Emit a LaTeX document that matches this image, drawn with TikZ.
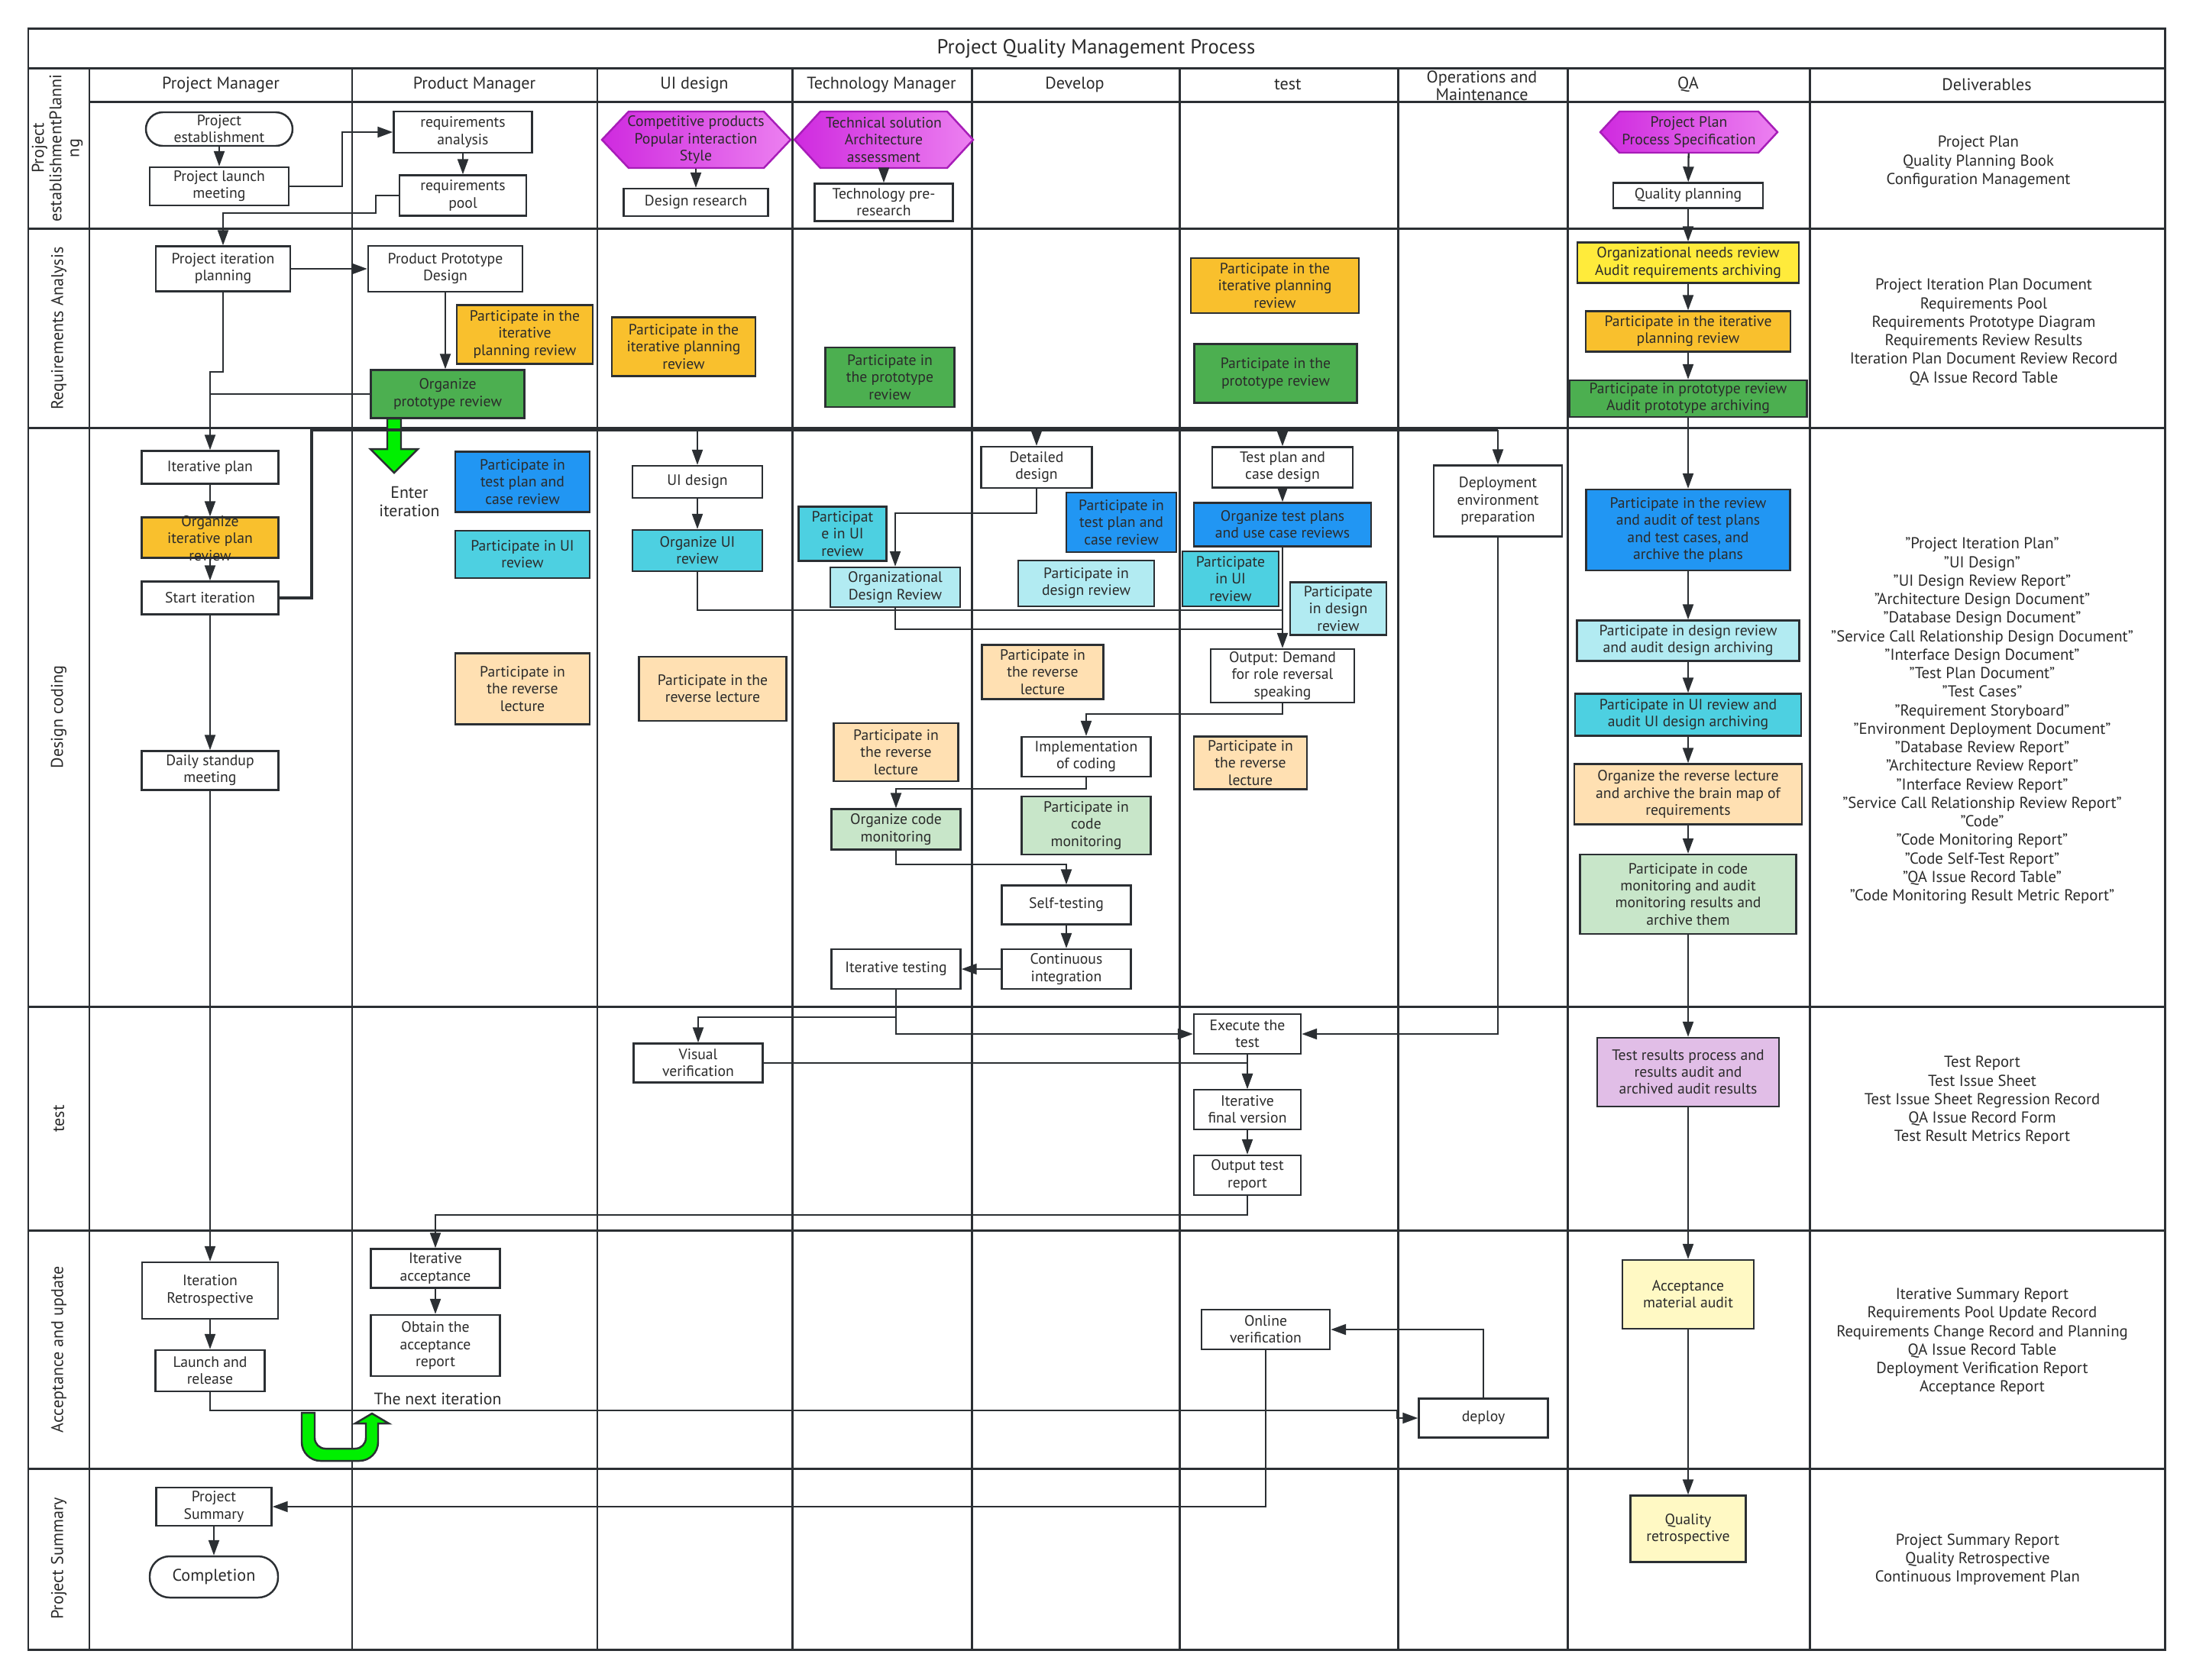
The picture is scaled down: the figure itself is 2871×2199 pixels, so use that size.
\documentclass[tikz,border=0pt]{standalone}
\usepackage{fontspec}
\setmainfont{PT Sans}
\usepackage{xcolor}
\usetikzlibrary{arrows.meta, positioning, calc}

\definecolor{lc}{HTML}{2B2F33}
\definecolor{tc}{HTML}{2B2B2B}
\definecolor{cOrange}{HTML}{F9C02D}
\definecolor{cGreen}{HTML}{4CAF50}
\definecolor{cYellow}{HTML}{FFEB3B}
\definecolor{cBlue}{HTML}{2196F3}
\definecolor{cCyan}{HTML}{4DD0E1}
\definecolor{cLCyan}{HTML}{B2EBF2}
\definecolor{cPeach}{HTML}{FFE0B2}
\definecolor{cLGreen}{HTML}{C8E6C9}
\definecolor{cPurple}{HTML}{E1BEE7}
\definecolor{cLYellow}{HTML}{FFF9C4}
\definecolor{arrgreen}{HTML}{00F000}
\definecolor{hexl}{HTML}{CF2ADF}
\definecolor{hexr}{HTML}{EC80F0}
\definecolor{hexb}{HTML}{A71DB8}

\newcommand\bxfont{\fontsize{5.6}{6.3}\selectfont}
\newcommand\ntfont{\fontsize{6.2}{7}\selectfont}
\newcommand\dlfont{\fontsize{5.9}{6.9}\selectfont}
\newcommand\hdfont{\fontsize{6.3}{6.6}\selectfont}
\newcommand\lnfont{\fontsize{6.3}{6.6}\selectfont}
\newcommand\ttlfont{\fontsize{7.6}{9}\selectfont}

\begin{document}
\begin{tikzpicture}[x=0.1mm, y=-0.1mm,
    every node/.style={text=tc},
    grid/.style={draw=lc, line width=0.85pt},
    box/.style={draw=lc, line width=0.7pt, fill=white, align=center, inner sep=1pt, font=\bxfont},
    sz/.style 2 args={minimum width=#1*0.1mm, minimum height=#2*0.1mm},
    term/.style={box, rounded corners=2.2mm},
    hexline/.style={draw=hexb, line width=0.7pt, left color=hexl, right color=hexr},
    hextext/.style={align=center, inner sep=0pt, font=\bxfont},
    hdr/.style={align=center, font=\hdfont},
    lanelbl/.style={rotate=90, align=center, font=\lnfont},
    dlv/.style={align=center, font=\dlfont},
    note/.style={align=center, font=\ntfont},
    conn/.style={draw=lc, line width=0.65pt},
    arr/.style={conn, -{Triangle[length=2mm, width=1.4mm]}},
    bus/.style={conn, line width=1pt},
    garrow/.style={draw=lc, line width=0.7pt, fill=arrgreen},
  ]
  \useasboundingbox (0,0) rectangle (2871,2199);

  % swimlane grid
  \draw[grid] (37,37) rectangle (2834,2160);
  \draw[grid] (37,89) -- (2834,89);
  \draw[grid] (117,133) -- (2834,133);
  \foreach \y in {299,560,1318,1611,1923}
    \draw[grid] (37,\y) -- (2834,\y);
  \foreach \x in {117,461,782,1037,1272,1544,1830,2052,2369}
    \draw[grid] (\x,89) -- (\x,2160);

  \node[font=\ttlfont] (title) at (1435,64) {Project Quality Management Process};

  % column headers
  \node[hdr] (hPM) at (289,111) {Project Manager};
  \node[hdr] (hPD) at (621,111) {Product Manager};
  \node[hdr] (hUI) at (909,111) {UI design};
  \node[hdr] (hTM) at (1154,111) {Technology Manager};
  \node[hdr] (hDV) at (1407,111) {Develop};
  \node[hdr] (hTS) at (1686,111) {test};
  \node[hdr] (hOP) at (1940,112) {Operations and\\Maintenance};
  \node[hdr] (hQA) at (2210,111) {QA};
  \node[hdr] (hDL) at (2601,111) {Deliverables};

  % lane labels
  \node[lanelbl] (lab1) at (75,194) {Project\\establishmentPlanni\\ng};
  \node[lanelbl] (lab2) at (77,430) {Requirements Analysis};
  \node[lanelbl] (lab3) at (77,939) {Design coding};
  \node[lanelbl] (lab4) at (77,1465) {test};
  \node[lanelbl] (lab5) at (77,1767) {Acceptance and update};
  \node[lanelbl] (lab6) at (77,2041) {Project Summary};

  % lane 1: project establishment
  \node[term, sz={192}{44}] (est) at (287,169) {Project\\establishment};
  \node[box, sz={182}{50}] (launch) at (287,244) {Project launch\\meeting};
  \node[box, sz={181}{54}] (reqa) at (606,173) {requirements\\analysis};
  \node[box, sz={166}{53}] (reqp) at (606,256) {requirements\\pool};
  \draw[hexline] (788,183) -- ++(35,-37) -- ++(177,0) -- ++(35,37) -- ++(-35,37) -- ++(-177,0) -- cycle;
  \node[hextext, sz={247}{74}] (uihex) at (911,183) {Competitive products\\Popular interaction\\Style};
  \node[box, sz={189}{36}] (dres) at (911,265) {Design research};
  \draw[hexline] (1040,183) -- ++(34,-37) -- ++(166,0) -- ++(34,37) -- ++(-34,37) -- ++(-166,0) -- cycle;
  \node[hextext, sz={234}{74}] (thex) at (1157,183) {Technical solution\\Architecture\\assessment};
  \node[box, sz={181}{49}] (tpre) at (1157,265) {Technology pre-\\research};
  \draw[hexline] (2095,173) -- ++(25,-27) -- ++(182,0) -- ++(25,27) -- ++(-25,27) -- ++(-182,0) -- cycle;
  \node[hextext, sz={232}{54}] (qhex) at (2211,173) {Project Plan\\Process Specification};
  \node[box, sz={196}{33}] (qpl) at (2210,256) {Quality planning};
  \node[dlv] (dl1) at (2590,212) {Project Plan\\Quality Planning Book\\Configuration Management};

  % lane 2: requirements analysis
  \node[box, sz={176}{59}] (pip) at (292,352) {Project iteration\\planning};
  \node[box, sz={202}{60}] (ppd) at (583,352) {Product Prototype\\Design};
  \node[box, fill=cOrange, sz={178}{77}] (pmrev) at (687,438) {Participate in the\\iterative\\planning review};
  \node[box, fill=cGreen, sz={201}{63}] (opr) at (586,516) {Organize\\prototype review};
  \node[box, fill=cOrange, sz={188}{77}] (uirev) at (895,454) {Participate in the\\iterative planning\\review};
  \node[box, fill=cGreen, sz={169}{78}] (tmproto) at (1165,494) {Participate in\\the prototype\\review};
  \node[box, fill=cOrange, sz={220}{72}] (tsrev) at (1669,374) {Participate in the\\iterative planning\\review};
  \node[box, fill=cGreen, sz={213}{77}] (tsproto) at (1670,489) {Participate in the\\prototype review};
  \node[box, fill=cYellow, sz={290}{53}] (qneed) at (2210,344) {Organizational needs review\\Audit requirements archiving};
  \node[box, fill=cOrange, sz={268}{53}] (qiter) at (2210,434) {Participate in the iterative\\planning review};
  \node[box, fill=cGreen, sz={311}{48}] (qproto) at (2210,522) {Participate in prototype review\\Audit prototype archiving};
  \node[dlv] (dl2) at (2597,435) {Project Iteration Plan Document\\Requirements Pool\\Requirements Prototype Diagram\\Requirements Review Results\\Iteration Plan Document Review Record\\QA Issue Record Table};

  % lane 3: design coding
  \node[box, sz={179}{43}] (itp) at (275,612) {Iterative plan};
  \node[box, fill=cOrange, sz={179}{53}] (oip) at (275,704) {};
  \node[note, font=\bxfont] (oiptxt) at (275,705) {Organize\\iterative plan\\review};
  \node[box, sz={179}{43}] (sti) at (275,783) {Start iteration};
  \node[box, sz={179}{51}] (dsm) at (275,1009) {Daily standup\\meeting};
  \node[box, fill=cBlue, sz={176}{79}] (pmtest) at (684,631) {Participate in\\test plan and\\case review};
  \node[box, fill=cCyan, sz={176}{62}] (pmui) at (684,726) {Participate in UI\\review};
  \node[box, fill=cPeach, sz={176}{93}] (pmlec) at (684,902) {Participate in\\the reverse\\lecture};
  \node[note] (enter) at (536,657) {Enter\\iteration};
  \node[box, sz={170}{42}] (uid) at (913,631) {UI design};
  \node[box, fill=cCyan, sz={170}{54}] (oui) at (913,721) {Organize UI\\review};
  \node[box, fill=cPeach, sz={193}{84}] (uilec) at (933,902) {Participate in the\\reverse lecture};
  \node[box, fill=cCyan, sz={115}{71}] (tmui) at (1103,699) {Participat\\e in UI\\review};
  \node[box, fill=cLCyan, sz={170}{52}] (odr) at (1172,769) {Organizational\\Design Review};
  \node[box, fill=cPeach, sz={163}{76}] (tmlec) at (1173,985) {Participate in\\the reverse\\lecture};
  \node[box, fill=cLGreen, sz={169}{53}] (ocm) at (1173,1086) {Organize code\\monitoring};
  \node[box, sz={169}{52}] (itt) at (1173,1269) {Iterative testing};
  \node[box, sz={145}{54}] (dd) at (1357,612) {Detailed\\design};
  \node[box, fill=cBlue, sz={144}{78}] (dvtest) at (1468,684) {Participate in\\test plan and\\case review};
  \node[box, fill=cLCyan, sz={178}{60}] (dvdes) at (1422,764) {Participate in\\design review};
  \node[box, fill=cPeach, sz={159}{71}] (dvlec) at (1365,880) {Participate in\\the reverse\\lecture};
  \node[box, sz={169}{52}] (impl) at (1422,991) {Implementation\\of coding};
  \node[box, fill=cLGreen, sz={169}{76}] (dvcode) at (1422,1081) {Participate in\\code\\monitoring};
  \node[box, sz={169}{51}] (self) at (1396,1185) {Self-testing};
  \node[box, sz={169}{52}] (ci) at (1396,1269) {Continuous\\integration};
  \node[box, sz={184}{53}] (tpc) at (1679,612) {Test plan and\\case design};
  \node[box, fill=cBlue, sz={232}{57}] (otp) at (1679,687) {Organize test plans\\and use case reviews};
  \node[box, fill=cCyan, sz={126}{72}] (tsui) at (1611,758) {Participate\\in UI\\review};
  \node[box, fill=cLCyan, sz={126}{69}] (tsdes) at (1752,797) {Participate\\in design\\review};
  \node[box, sz={188}{70}] (out) at (1679,885) {Output: Demand\\for role reversal\\speaking};
  \node[box, fill=cPeach, sz={148}{69}] (tslec) at (1637,999) {Participate in\\the reverse\\lecture};
  \node[box, sz={168}{93}] (depl) at (1961,656) {Deployment\\environment\\preparation};
  \node[box, fill=cBlue, sz={267}{106}] (qtest) at (2210,694) {Participate in the review\\and audit of test plans\\and test cases, and\\archive the plans};
  \node[box, fill=cLCyan, sz={291}{53}] (qdes) at (2210,839) {Participate in design review\\and audit design archiving};
  \node[box, fill=cCyan, sz={296}{55}] (qui) at (2210,936) {Participate in UI review and\\audit UI design archiving};
  \node[box, fill=cPeach, sz={298}{79}] (qlec) at (2210,1040) {Organize the reverse lecture\\and archive the brain map of\\requirements};
  \node[box, fill=cLGreen, sz={283}{104}] (qcode) at (2210,1171) {Participate in code\\monitoring and audit\\monitoring results and\\archive them};
  \node[dlv] (dl3) at (2595,944) {"Project Iteration Plan"\\"UI Design"\\"UI Design Review Report"\\"Architecture Design Document"\\"Database Design Document"\\"Service Call Relationship Design Document"\\"Interface Design Document"\\"Test Plan Document"\\"Test Cases"\\"Requirement Storyboard"\\"Environment Deployment Document"\\"Database Review Report"\\"Architecture Review Report"\\"Interface Review Report"\\"Service Call Relationship Review Report"\\"Code"\\"Code Monitoring Report"\\"Code Self-Test Report"\\"QA Issue Record Table"\\"Code Monitoring Result Metric Report"};

  % lane 4: test
  \node[box, sz={169}{51}] (vv) at (914,1392) {Visual\\verification};
  \node[box, sz={140}{52}] (exe) at (1633,1354) {Execute the\\test};
  \node[box, sz={140}{52}] (ifv) at (1633,1453) {Iterative\\final version};
  \node[box, sz={140}{52}] (otr) at (1633,1539) {Output test\\report};
  \node[box, fill=cPurple, sz={238}{90}] (tres) at (2210,1404) {Test results process and\\results audit and\\archived audit results};
  \node[dlv] (dl4) at (2595,1441) {Test Report\\Test Issue Sheet\\Test Issue Sheet Regression Record\\QA Issue Record Form\\Test Result Metrics Report};

  % lane 5: acceptance and update
  \node[box, sz={178}{74}] (irt) at (275,1690) {Iteration\\Retrospective};
  \node[box, sz={143}{54}] (lar) at (275,1795) {Launch and\\release};
  \node[box, sz={169}{51}] (iac) at (570,1661) {Iterative\\acceptance};
  \node[box, sz={169}{80}] (oar) at (570,1762) {Obtain the\\acceptance\\report};
  \node[note] (nxt) at (573,1832) {The next iteration};
  \node[box, sz={168}{52}] (onv) at (1657,1741) {Online\\verification};
  \node[box, sz={169}{51}] (dpl) at (1942,1857) {deploy};
  \node[box, fill=cLYellow, sz={172}{90}] (ama) at (2210,1695) {Acceptance\\material audit};
  \node[dlv] (dl5) at (2595,1757) {Iterative Summary Report\\Requirements Pool Update Record\\Requirements Change Record and Planning\\QA Issue Record Table\\Deployment Verification Report\\Acceptance Report};

  % lane 6: project summary
  \node[box, sz={151}{50}] (psum) at (280,1973) {Project\\Summary};
  \node[term, sz={168}{54}, rounded corners=2.6mm, font=\hdfont] (comp) at (280,2065) {Completion};
  \node[box, fill=cLYellow, sz={151}{87}] (qret) at (2210,2002) {Quality\\retrospective};
  \node[dlv] (dl6) at (2589,2042) {Project Summary Report\\Quality Retrospective\\Continuous Improvement Plan};

  % green block arrows
  \draw[garrow] (507,548) -- (507,588) -- (485,588) -- (516,619) -- (547,588) -- (525,588) -- (525,548) -- cycle;
  \draw[garrow] (395,1850) [rounded corners=7] -- (395,1913) -- (495,1913) [sharp corners] -- (495,1864) -- (509,1864) -- (487,1851) -- (465,1864) -- (479,1864) [rounded corners=4] -- (479,1897) -- (412,1897) [sharp corners] -- (412,1850) -- cycle;

  % connectors lane 1
  \draw[arr] (est) -- (launch);
  \draw[arr] (launch.east) -- ++(69,0) |- (reqa.west);
  \draw[arr] (reqa) -- (reqp);
  \draw[arr] (reqp.west) -- ++(-30,0) -- ++(0,23) -| (pip.north);
  \draw[arr] (uihex) -- (dres);
  \draw[arr] (thex) -- (tpre);
  \draw[arr] (qhex) -- (qpl);
  \draw[arr] (qpl) -- (qneed);
  \draw[arr] (qneed) -- (qiter);
  \draw[arr] (qiter) -- (qproto);

  % connectors lane 2
  \draw[arr] (pip) -- (ppd);
  \draw[arr] (ppd.south) -- (ppd.south |- opr.north);
  \draw[arr] (pip.south) -- ++(0,104) -| (itp.north);
  \draw[conn] (opr.west) -- (opr.west -| itp.north);

  % connectors lane 3
  \draw[arr] (itp) -- (oip);
  \draw[arr] (oip) -- (sti);
  \draw[arr] (sti) -- (dsm);
  \draw[arr] (dsm) -- (irt);
  \coordinate (bus) at (408,563);
  \draw[bus] (sti.east) -| (bus) -- (bus -| depl.north);
  \draw[arr] (bus -| uid.north) -- (uid.north);
  \draw[arr] (bus -| dd.north) -- (dd.north);
  \draw[arr] (bus -| tpc.north) -- (tpc.north);
  \draw[arr] (bus -| depl.north) -- (depl.north);
  \draw[arr] (uid) -- (oui);
  \draw[arr] (dd.south) -- ++(0,32) -| (odr.north);
  \draw[arr] (tpc) -- (otp);
  \draw[arr] (otp) -- (out);
  \coordinate (j1) at (1679,799);
  \coordinate (j2) at (1679,824);
  \draw[conn] (oui.south) |- (j1);
  \draw[conn] (odr.south) |- (j2);
  \draw[arr] (out.south) -- ++(0,14) -| (impl.north);
  \draw[arr] (impl.south) -- ++(0,15) -| (ocm.north);
  \draw[arr] (ocm.south) -- ++(0,18) -| (self.north);
  \draw[arr] (self) -- (ci);
  \draw[arr] (ci) -- (itt);
  \draw[arr] (qproto) -- (qtest);
  \draw[arr] (qtest) -- (qdes);
  \draw[arr] (qdes) -- (qui);
  \draw[arr] (qui) -- (qlec);
  \draw[arr] (qlec) -- (qcode);
  \draw[arr] (qcode) -- (tres);

  % connectors lane 4
  \draw[arr] (itt.south) -- ++(0,36) -| (vv.north);
  \draw[arr] (itt.south) |- (exe.west);
  \draw[arr] (depl.south) |- (exe.east);
  \draw[arr] (vv.east) -| (ifv.north);
  \draw[arr] (exe) -- (ifv);
  \draw[arr] (ifv) -- (otr);
  \draw[arr] (otr.south) -- ++(0,25) -| (iac.north);
  \draw[arr] (tres) -- (ama);

  % connectors lane 5 and 6
  \draw[arr] (irt) -- (lar);
  \draw[arr] (iac) -- (oar);
  \coordinate (c1) at (1829,1847);
  \draw[arr] (lar.south) |- (c1) |- (dpl.west);
  \draw[arr] (dpl.north) |- (onv.east);
  \draw[arr] (onv.south) |- (psum.east);
  \draw[arr] (psum) -- (comp);
  \draw[arr] (ama) -- (qret);
\end{tikzpicture}
\end{document}
